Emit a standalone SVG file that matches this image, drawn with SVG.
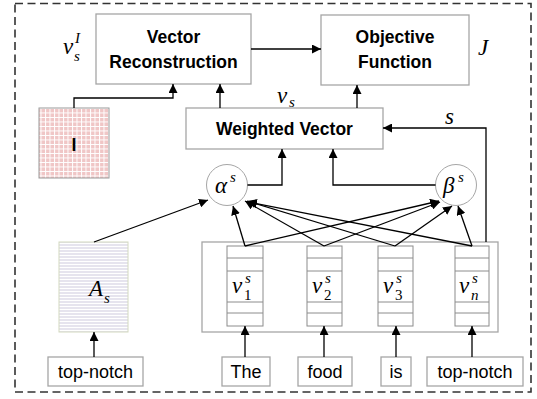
<svg xmlns="http://www.w3.org/2000/svg" width="537" height="399" viewBox="0 0 537 399">
<defs>
<marker id="ah" markerWidth="9" markerHeight="9" viewBox="0 0 10 10" refX="10" refY="5" orient="auto" markerUnits="userSpaceOnUse">
<path d="M0,0 L10,5 L0,10 Z" fill="#000"/>
</marker>
<pattern id="grid" width="4.5" height="4.5" patternUnits="userSpaceOnUse">
<rect width="4.5" height="4.5" fill="#f0c6c6"/>
<path d="M0,0.5 H4.5 M0.5,0 V4.5" stroke="#fff" stroke-width="1"/>
</pattern>
<pattern id="stripes" width="6" height="3" patternUnits="userSpaceOnUse">
<rect width="6" height="3" fill="#e6e4ee"/>
<path d="M0,0.5 H6" stroke="#fff" stroke-width="1"/>
</pattern>
<style>
.box{fill:#fff;stroke:#a6a6a6;stroke-width:1.3}
.circ{fill:#fff;stroke:#a6a6a6;stroke-width:1}
.bold{font-family:"Liberation Sans",Arial,sans-serif;font-weight:bold;font-size:17.5px;text-anchor:middle;fill:#000}
.word{font-family:"Liberation Sans",Arial,sans-serif;font-size:18px;text-anchor:middle;fill:#000}
.math{font-family:"Liberation Serif","DejaVu Serif",serif;font-style:italic;font-size:23px;fill:#000}
.sm{font-family:"Liberation Serif","DejaVu Serif",serif;font-style:italic;font-size:15px;fill:#000}
.smu{font-family:"Liberation Serif","DejaVu Serif",serif;font-size:15px;fill:#000}
.con{fill:none;stroke:#000;stroke-width:1.3;marker-end:url(#ah)}
.cell{fill:#fff;stroke:#8c8c8c;stroke-width:1}
.cl{stroke:#8c8c8c;stroke-width:1}
</style>
</defs>
<rect x="15" y="3.5" width="516" height="388.5" fill="none" stroke="#333" stroke-width="1.6" stroke-dasharray="8,4.5"/>

<g id="vector-reconstruction">
<rect class="box" x="96" y="14" width="155" height="70"/>
<text class="bold" x="173.5" y="43">Vector</text>
<text class="bold" x="173.5" y="68">Reconstruction</text>
</g>
<g id="objective-function">
<rect class="box" x="321" y="15" width="148" height="70"/>
<text class="bold" x="395" y="43">Objective</text>
<text class="bold" x="395" y="68">Function</text>
</g>
<g id="label-vsI">
<text class="math" x="63" y="54">v</text>
<text class="sm" x="75" y="43">I</text>
<text class="sm" x="74" y="61">s</text>
</g>
<g id="label-J">
<text class="math" x="478" y="55">J</text>
</g>
<g id="weighted-vector">
<rect class="box" x="186" y="108" width="197" height="41"/>
<text class="bold" x="284.5" y="134.5">Weighted Vector</text>
</g>
<g id="label-vs">
<text class="math" x="277" y="103">v</text>
<text class="sm" x="289" y="107">s</text>
</g>
<g id="label-s">
<text class="math" x="445" y="124">s</text>
</g>
<g id="I-matrix">
<rect x="39" y="108" width="70" height="70" fill="url(#grid)" stroke="#999" stroke-width="1"/>
<text class="bold" x="74" y="151" font-size="20">I</text>
</g>
<g id="alpha">
<circle class="circ" cx="227" cy="185" r="20.5"/>
<text class="math" x="215" y="193">α</text>
<text class="sm" x="230" y="182">s</text>
</g>
<g id="beta">
<circle class="circ" cx="456" cy="185" r="20.5"/>
<text class="math" x="443" y="193">β</text>
<text class="sm" x="458" y="182">s</text>
</g>
<g id="A-s">
<rect x="59" y="242" width="69" height="90" fill="url(#stripes)" stroke="#d4dac0" stroke-width="1"/>
<text class="math" x="89" y="296">A</text>
<text class="sm" x="104" y="303">s</text>
</g>
<g id="embeddings">
<rect class="box" x="202" y="242" width="296" height="90"/>
<g id="v1">
<rect class="cell" x="227" y="246" width="36" height="80"/>
<path class="cl" d="M227,258H263M227,271H263M227,302H263M227,313H263"/>
<text class="math" x="232" y="293">v</text>
<text class="sm" x="245" y="283">s</text>
<text class="smu" x="244" y="300">1</text>
</g>
<g id="v2">
<rect class="cell" x="307" y="246" width="35" height="80"/>
<path class="cl" d="M307,258H342M307,271H342M307,302H342M307,313H342"/>
<text class="math" x="312" y="293">v</text>
<text class="sm" x="325" y="283">s</text>
<text class="smu" x="324" y="300">2</text>
</g>
<g id="v3">
<rect class="cell" x="378" y="246" width="35" height="80"/>
<path class="cl" d="M378,258H413M378,271H413M378,302H413M378,313H413"/>
<text class="math" x="383" y="293">v</text>
<text class="sm" x="396" y="283">s</text>
<text class="smu" x="395" y="300">3</text>
</g>
<g id="vn">
<rect class="cell" x="455" y="246" width="34" height="80"/>
<path class="cl" d="M455,258H489M455,271H489M455,302H489M455,313H489"/>
<text class="math" x="459" y="293">v</text>
<text class="sm" x="472" y="283">s</text>
<text class="sm" x="471" y="300">n</text>
</g>
</g>
<g id="word-topnotch-left">
<rect class="box" x="48" y="357" width="95" height="29"/>
<text class="word" x="95.5" y="378">top-notch</text>
</g>
<g id="word-the">
<rect class="box" x="222" y="357" width="48" height="29"/>
<text class="word" x="246" y="378">The</text>
</g>
<g id="word-food">
<rect class="box" x="298" y="357" width="54" height="29"/>
<text class="word" x="325" y="378">food</text>
</g>
<g id="word-is">
<rect class="box" x="381" y="357" width="30" height="29"/>
<text class="word" x="396" y="378">is</text>
</g>
<g id="word-topnotch-right">
<rect class="box" x="427" y="357" width="96" height="29"/>
<text class="word" x="475" y="378">top-notch</text>
</g>

<g id="connectors">
<path class="con" d="M251,49H321"/>
<path class="con" d="M74,108V98H173V84"/>
<path class="con" d="M220,108V84"/>
<path class="con" d="M357,108V85"/>
<path class="con" d="M486,242V128H383"/>
<path class="con" d="M247.5,185H282V149"/>
<path class="con" d="M435.5,185H333V149"/>
<path class="con" d="M94,242L208,200"/>
<path class="con" d="M245,246L233,206"/>
<path class="con" d="M324,246L245,201"/>
<path class="con" d="M395,246L247,201"/>
<path class="con" d="M472,246L248,202"/>
<path class="con" d="M245,246L439,201"/>
<path class="con" d="M324,246L440,202"/>
<path class="con" d="M395,246L452,206"/>
<path class="con" d="M472,246L458,206"/>
<path class="con" d="M94,357V332"/>
<path class="con" d="M245,357V326"/>
<path class="con" d="M324,357V326"/>
<path class="con" d="M396,357V326"/>
<path class="con" d="M472,357V326"/>
</g>
</svg>
